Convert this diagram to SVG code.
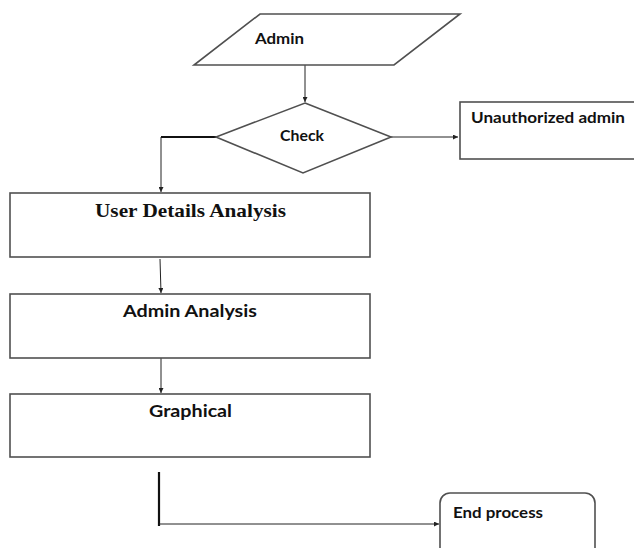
<svg xmlns="http://www.w3.org/2000/svg" width="634" height="548" viewBox="0 0 634 548">
<style>
.shape{fill:#fff;stroke:#505050;stroke-width:1.6}
.conn{fill:none;stroke:#222;stroke-width:1}
.thick{fill:none;stroke:#111;stroke-width:2.2}
.sans{font-family:Lato,"Open Sans","Liberation Sans",sans-serif;font-weight:bold;fill:#111}
.serif{font-family:"Liberation Serif","Times New Roman",serif;font-weight:bold;fill:#111}
</style>
<defs>
<marker id="arr" viewBox="0 0 10 10" refX="10" refY="5" markerWidth="7" markerHeight="5" orient="auto" markerUnits="userSpaceOnUse">
<path d="M0,0 L10,5 L0,10 z" fill="#222"/>
</marker>
</defs>
<rect width="634" height="548" fill="#fff"/>
<g id="connectors">
<line class="conn" x1="305" y1="65" x2="305" y2="102" marker-end="url(#arr)"/>
<line class="conn" x1="391" y1="137" x2="458" y2="137" marker-end="url(#arr)"/>
<polyline class="thick" points="216,137 161,137"/>
<line class="conn" x1="161" y1="137" x2="161" y2="192" marker-end="url(#arr)"/>
<line class="conn" x1="160" y1="259" x2="161" y2="293" marker-end="url(#arr)"/>
<line class="conn" x1="161" y1="358" x2="161" y2="393" marker-end="url(#arr)"/>
<line class="thick" x1="159" y1="472" x2="159" y2="526"/>
<line class="conn" x1="159" y1="524" x2="439" y2="524" marker-end="url(#arr)"/>
</g>
<g id="admin">
<polygon class="shape" points="260,14 460,14 394,65 194,65"/>
<text class="sans" x="255" y="44" font-size="15" textLength="49" lengthAdjust="spacingAndGlyphs">Admin</text>
</g>
<g id="check">
<polygon class="shape" points="305,103 391,137 303,173 216,137"/>
<text class="sans" x="280" y="141" font-size="16" textLength="44" lengthAdjust="spacingAndGlyphs">Check</text>
</g>
<g id="unauthorized">
<rect class="shape" x="460" y="102" width="180" height="57"/>
<text class="sans" x="471" y="123" font-size="14.5" textLength="154" lengthAdjust="spacingAndGlyphs">Unauthorized admin</text>
</g>
<g id="user-details">
<rect class="shape" x="10" y="193" width="360" height="64"/>
<text class="serif" x="95" y="217" font-size="19" textLength="191" lengthAdjust="spacingAndGlyphs">User Details Analysis</text>
</g>
<g id="admin-analysis">
<rect class="shape" x="10" y="294" width="360" height="64"/>
<text class="sans" x="123" y="317" font-size="17" textLength="134" lengthAdjust="spacingAndGlyphs">Admin Analysis</text>
</g>
<g id="graphical">
<rect class="shape" x="10" y="394" width="360" height="63"/>
<text class="sans" x="149" y="417" font-size="17" textLength="83" lengthAdjust="spacingAndGlyphs">Graphical</text>
</g>
<g id="end-process">
<rect class="shape" x="440" y="493" width="155" height="70" rx="10" ry="10"/>
<text class="sans" x="453" y="518" font-size="15" textLength="90" lengthAdjust="spacingAndGlyphs">End process</text>
</g>
</svg>
